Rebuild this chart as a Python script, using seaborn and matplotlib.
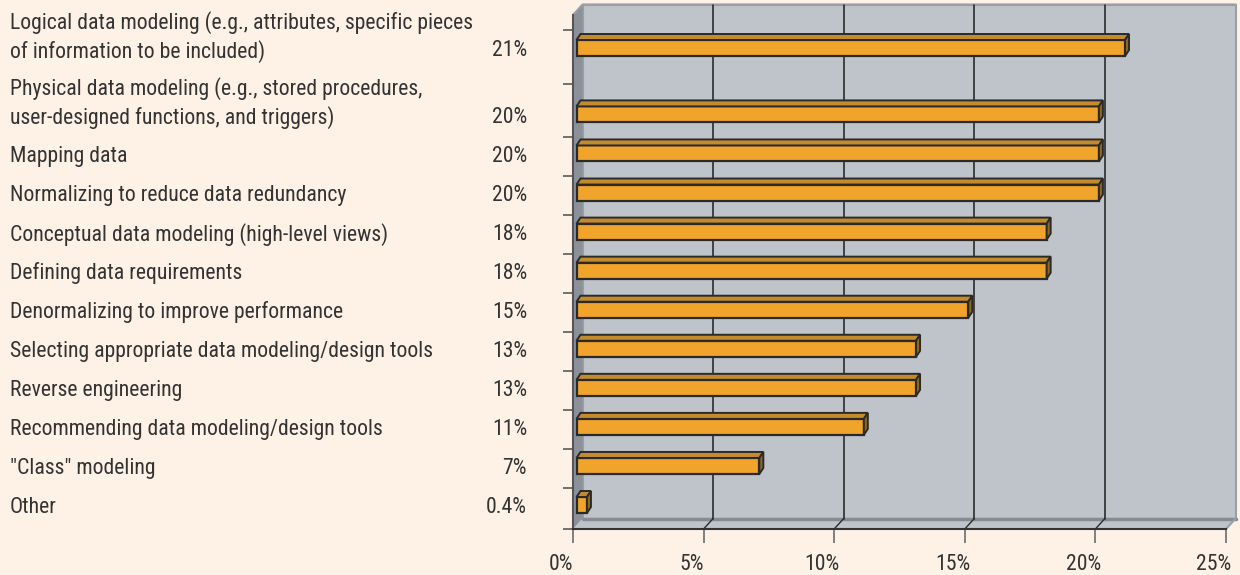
import numpy as np
import pandas as pd
import matplotlib
matplotlib.use("Agg")
import matplotlib.pyplot as plt
import seaborn as sns
from matplotlib import font_manager
from matplotlib.transforms import ScaledTranslation, blended_transform_factory
from matplotlib.patches import Polygon
from matplotlib.lines import Line2D

# ---------------- data ----------------
categories = [
    "Logical data modeling (e.g., attributes, specific pieces\nof information to be included)",
    "Physical data modeling (e.g., stored procedures,\nuser-designed functions, and triggers)",
    "Mapping data",
    "Normalizing to reduce data redundancy",
    "Conceptual data modeling (high-level views)",
    "Defining data requirements",
    "Denormalizing to improve performance",
    "Selecting appropriate data modeling/design tools",
    "Reverse engineering",
    "Recommending data modeling/design tools",
    "\"Class\" modeling",
    "Other",
]
values = [21, 20, 20, 20, 18, 18, 15, 13, 13, 11, 7, 0.4]
value_labels = ["21%", "20%", "20%", "20%", "18%", "18%", "15%", "13%", "13%", "11%", "7%", "0.4%"]
x_ticks = [0, 5, 10, 15, 20, 25]
x_tick_labels = ["0%", "5%", "10%", "15%", "20%", "25%"]

# ---------------- style ----------------
BG = "#FEF2E7"
WALL = "#BFC3CA"
SIDE_WALL = "#8C9199"
FLOOR_EDGE = "#868B93"
BAR_FRONT = "#F0A42B"
BAR_TOP = "#C48A2E"
BAR_SIDE = "#8F6822"
EDGE = "#2A2A2A"
TEXT = "#333333"

sns.set_theme(style="white")
available = {f.name for f in font_manager.fontManager.ttflist}
family = "DejaVu Sans"
for cand in ["Roboto Condensed", "Liberation Sans Narrow", "Arial Narrow",
             "Open Sans Condensed", "Roboto", "Liberation Sans"]:
    if cand in available:
        family = cand
        break
plt.rcParams["font.family"] = [family, "DejaVu Sans"]

W, H, DPI = 1240, 575, 100
fig = plt.figure(figsize=(W / DPI, H / DPI), dpi=DPI, facecolor=BG)

# size font so the longest single-line label spans ~423 px like the reference
renderer = fig.canvas.get_renderer()
probe = fig.text(0, 0, "Selecting appropriate data modeling/design tools", fontsize=10)
probe_w = probe.get_window_extent(renderer).width
probe.remove()
FS = min(16.0, 10 * 423 / probe_w)

# line spacing so two-line labels have ~28 px between baselines
probe2 = fig.text(0, 0, "lp\nlp", fontsize=FS, linespacing=1.0)
probe1 = fig.text(0, 0, "lp", fontsize=FS, linespacing=1.0)
step = (probe2.get_window_extent(renderer).height - probe1.get_window_extent(renderer).height)
probe1.remove()
probe2.remove()
line_px = 28
LS = line_px / step if step > 0 else 1.2

# front plane of the pseudo-3D box (pixels from top-left)
ax_left, ax_right, ax_top, ax_bottom = 573, 1226, 15, 529
ax = fig.add_axes([ax_left / W, 1 - ax_bottom / H,
                   (ax_right - ax_left) / W, (ax_bottom - ax_top) / H])
ax.patch.set_visible(False)

# category positions: extra room for multi-line labels
n_lines = [c.count("\n") + 1 for c in categories]
extra_per_line = 0.7
pos = []
p = 0.0
for i, n in enumerate(n_lines):
    if i > 0:
        p += 1 + extra_per_line * (n - 1)
    pos.append(p)

top_margin, bottom_margin = 0.845, 0.614
y_top = pos[0] - top_margin
y_bot = pos[-1] + bottom_margin
xmax = x_ticks[-1]

px_x = (ax_right - ax_left) / xmax
px_y = (ax_bottom - ax_top) / (y_bot - y_top)

df = pd.DataFrame({"value": values, "pos": pos, "category": categories})
sns.barplot(data=df, x="value", y="pos", orient="y", native_scale=True,
            width=0.41, color=BAR_FRONT, saturation=1, edgecolor=EDGE,
            linewidth=1.6, ax=ax, zorder=5)

ax.set_xlim(0, xmax)
ax.set_ylim(y_bot, y_top)

# ---------------- 3D box decorations ----------------
dpx, dpy = 9.5, 10.5
dxa, dya = dpx / (ax_right - ax_left), dpy / (ax_bottom - ax_top)

def poly(points, fc, ec="none", lw=0, z=0, transform=None):
    pg = Polygon(points, closed=True, facecolor=fc, edgecolor=ec, linewidth=lw,
                 transform=transform if transform is not None else ax.transAxes,
                 clip_on=False, zorder=z)
    ax.add_patch(pg)

poly([(dxa, dya), (1 + dxa, dya), (1 + dxa, 1 + dya), (dxa, 1 + dya)], WALL,
     ec="#9A9EA5", lw=1.5, z=0)
poly([(0, 0), (1, 0), (1 + dxa, dya), (dxa, dya)], WALL, z=0.5)
poly([(0, 0), (dxa, dya), (dxa, 1 + dya), (0, 1)], SIDE_WALL, z=0.6)
ax.add_line(Line2D([dxa, 1 + dxa], [dya, dya], color=FLOOR_EDGE, lw=2.5,
                   transform=ax.transAxes, clip_on=False, zorder=0.7))
ax.add_line(Line2D([0, dxa, 1 + dxa], [1, 1 + dya, 1 + dya], color="#9A9EA5", lw=1.5,
                   transform=ax.transAxes, clip_on=False, zorder=0.7))
ax.add_line(Line2D([1, 1 + dxa], [0, dya], color="#9A9EA5", lw=1.5,
                   transform=ax.transAxes, clip_on=False, zorder=0.7))

for t in x_ticks[1:-1]:
    fx = t / xmax
    ax.add_line(Line2D([fx + dxa, fx + dxa], [dya, 1 + dya], color="#2B2B2B", lw=1.2,
                       transform=ax.transAxes, clip_on=False, zorder=1))
    ax.add_line(Line2D([fx, fx + dxa], [0, dya], color="#2B2B2B", lw=1.0,
                       transform=ax.transAxes, clip_on=False, zorder=1))

# ---------------- 3D bar faces ----------------
bar_shift = ScaledTranslation(3.5 / DPI, 0, fig.dpi_scale_trans)
ddx, ddy = 4.0 / px_x, 6.0 / px_y
bars = [pt for pt in ax.patches if pt.get_zorder() == 5]
for b in bars:
    b.set_transform(ax.transData + bar_shift)
    b.set_clip_on(False)
    x0, y0 = b.get_x(), b.get_y()
    w, h = b.get_width(), b.get_height()
    x1 = x0 + w
    yt, yb = min(y0, y0 + h), max(y0, y0 + h)
    tr = ax.transData + bar_shift
    poly([(x0, yt), (x0 + ddx, yt - ddy), (x1 + ddx, yt - ddy), (x1, yt)],
         BAR_TOP, ec=EDGE, lw=1.4, z=5.5, transform=tr)
    poly([(x1, yt), (x1 + ddx, yt - ddy), (x1 + ddx, yb - ddy), (x1, yb)],
         BAR_SIDE, ec=EDGE, lw=1.4, z=5.5, transform=tr)

# ---------------- axes, ticks ----------------
for s in ["top", "right"]:
    ax.spines[s].set_visible(False)
ax.spines["left"].set_color("#555555")
ax.spines["left"].set_linewidth(1.5)
ax.spines["bottom"].set_color("#333333")
ax.spines["bottom"].set_linewidth(1.5)
ax.spines["left"].set_zorder(2)
ax.spines["bottom"].set_zorder(2)

ax.set_xticks(x_ticks)
ax.set_xticklabels(x_tick_labels, fontsize=FS, color=TEXT)
ax.tick_params(axis="x", direction="out", length=10, width=1.3, color="#777777",
               pad=8, bottom=True)
label_shift = ScaledTranslation(-12 / DPI, 0, fig.dpi_scale_trans)
for lab in ax.get_xticklabels():
    lab.set_transform(lab.get_transform() + label_shift)

mids = [(a + b) / 2 + 0.07 for a, b in zip(pos[:-1], pos[1:])]
y_ticks = [pos[0] - 0.46] + mids + [y_bot]
ax.set_yticks(y_ticks)
ax.set_yticklabels([""] * len(y_ticks))
ax.tick_params(axis="y", direction="out", length=7, width=1.3, color="#666666", left=True)
ax.set_xlabel("")
ax.set_ylabel("")

# ---------------- text labels ----------------
lab_tr = blended_transform_factory(fig.transFigure, ax.transData)
for c, vl, yp, n in zip(categories, value_labels, pos, n_lines):
    yc = yp + 0.07
    ax.text(10 / W, yc - (n - 1) * 0.5 * line_px / px_y, c, transform=lab_tr,
            ha="left", va="center", fontsize=FS, color=TEXT, linespacing=LS,
            clip_on=False)
    ax.text(527 / W, yc, vl, transform=lab_tr, ha="right", va="center",
            fontsize=FS, color=TEXT, clip_on=False)

fig.savefig("out.png", dpi=DPI, facecolor=BG)
